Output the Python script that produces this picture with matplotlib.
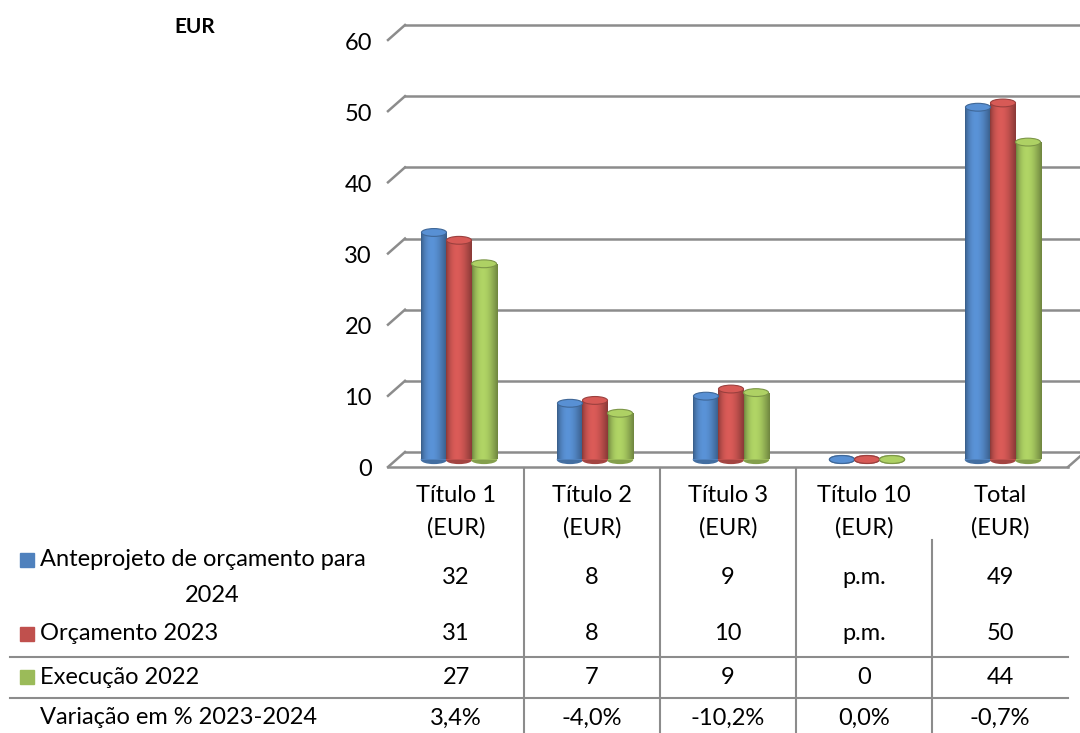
import numpy as np
import matplotlib.pyplot as plt
from matplotlib.patches import Ellipse, Rectangle
from matplotlib.transforms import ScaledTranslation, blended_transform_factory, IdentityTransform
from matplotlib.colors import to_rgb

plt.rcParams['font.family'] = ['Lato', 'DejaVu Sans']

# Data
categories = ["Título 1\n(EUR)", "Título 2\n(EUR)", "Título 3\n(EUR)", "Título 10\n(EUR)", "Total\n(EUR)"]
series_names = ["Anteprojeto de orçamento para\n2024", "Orçamento 2023", "Execução 2022"]
ante_2024 = [31.9, 7.9, 8.9, 0.0, 49.5]
orc_2023 = [30.8, 8.3, 9.9, 0.0, 50.1]
exec_2022 = [27.5, 6.5, 9.4, 0.0, 44.6]
ante_txt = ["32", "8", "9", "p.m.", "49"]
orc_txt = ["31", "8", "10", "p.m.", "50"]
exec_txt = ["27", "7", "9", "0", "44"]
var_txt = ["3,4%", "-4,0%", "-10,2%", "0,0%", "-0,7%"]
yticks = [0, 10, 20, 30, 40, 50, 60]

colors = ["#4F81BD", "#C0504D", "#9BBB59"]
grid_c = "#8C8C8C"
fs = 17

W, H = 1080, 733
fig = plt.figure(figsize=(W / 100, H / 100), dpi=100)
ax = fig.add_axes([388 / W, (H - 467) / H, 680 / W, 427 / H])
ax.axis('off')
ax.set_xlim(0, 5)
ax.set_ylim(0, 60)


def off(dx, dy):
    return ax.transData + ScaledTranslation(dx / 100, dy / 100, fig.dpi_scale_trans)


back = off(17, 15)
mid = off(3, 7.5)
lab = off(-16, -3)
ident = IdentityTransform()


def depth_line(xv, v):
    p0 = ax.transData.transform((xv, v))
    p1 = back.transform((xv, v))
    fig.add_artist(plt.Line2D([p0[0], p1[0]], [p0[1], p1[1]], color=grid_c, lw=1.8,
                              transform=ident))


# gridlines (3D look)
for v in yticks:
    ax.plot([0, 5.05], [v, v], color=grid_c, lw=1.8, transform=back, clip_on=False)
    depth_line(0, v)
    ax.text(0, v, str(v), transform=lab, ha='right', va='center', fontsize=fs)
# floor front and right edge
ax.plot([0, 5], [0, 0], color=grid_c, lw=1.8, clip_on=False)
depth_line(5, 0)

# cylinders
bw = 0.184
eh = 1.1
x = np.arange(5) + 0.5
t = np.linspace(0, 1, 40)
shade = 0.72 + 0.42 * np.sin(np.pi * t ** 0.8)
for i, vals in enumerate([ante_2024, orc_2023, exec_2022]):
    xs = x + (i - 1) * bw
    base = np.array(to_rgb(colors[i]))
    grad = np.clip(base[None, :] * shade[:, None], 0, 1)[None, :, :]
    bars = ax.bar(xs, vals, width=bw, color=colors[i], transform=mid, zorder=3, clip_on=False)
    for xi, v, b in zip(xs, vals, bars):
        ax.add_patch(Ellipse((xi, 0), bw, eh, color=base * 0.85, transform=mid, zorder=2, clip_on=False))
        if v > 0:
            im = ax.imshow(grad, extent=[xi - bw / 2, xi + bw / 2, 0, v], aspect='auto',
                           transform=mid, zorder=3.5, interpolation='bilinear')
            im.set_clip_path(b)
        top = np.clip(base * 1.12, 0, 1)
        ax.add_patch(Ellipse((xi, v), bw, eh, facecolor=top, edgecolor=base * 0.8, lw=0.8,
                             transform=mid, zorder=4, clip_on=False))

ax.set_xlim(0, 5)
ax.set_ylim(0, 60)

# table
tr = blended_transform_factory(ax.transData, fig.transFigure)


def fy(ypx):
    return 1 - ypx / H


for j, c in enumerate(categories):
    l1, l2 = c.split("\n")
    ax.text(x[j], fy(495), l1, transform=tr, ha='center', va='center', fontsize=fs)
    ax.text(x[j], fy(528), l2, transform=tr, ha='center', va='center', fontsize=fs)
    ax.text(x[j], fy(578), ante_txt[j], transform=tr, ha='center', va='center', fontsize=fs)
    ax.text(x[j], fy(634), orc_txt[j], transform=tr, ha='center', va='center', fontsize=fs)
    ax.text(x[j], fy(677), exec_txt[j], transform=tr, ha='center', va='center', fontsize=fs)
    ax.text(x[j], fy(718), var_txt[j], transform=tr, ha='center', va='center', fontsize=fs)

for k in [1, 2, 3]:
    ax.plot([k, k], [fy(468), 0], transform=tr, color=grid_c, lw=1.5, clip_on=False)
ax.plot([4, 4], [fy(540), 0], transform=tr, color=grid_c, lw=1.5, clip_on=False)
for ypx in [657, 698]:
    fig.add_artist(plt.Line2D([10 / W, 1068 / W], [fy(ypx), fy(ypx)], color=grid_c, lw=1.5))

l1, l2 = series_names[0].split("\n")
fig.text(40 / W, fy(560), l1, ha='left', va='center', fontsize=fs)
fig.text(212 / W, fy(595), l2, ha='center', va='center', fontsize=fs)
fig.text(40 / W, fy(634), series_names[1], ha='left', va='center', fontsize=fs)
fig.text(40 / W, fy(677), series_names[2], ha='left', va='center', fontsize=fs)
fig.text(40 / W, fy(718), "Variação em % 2023-2024", ha='left', va='center', fontsize=fs)
for c, ypx in zip(colors, [560, 634, 677]):
    fig.add_artist(Rectangle((20 / W, fy(ypx + 7)), 14 / W, 14 / H, color=c, transform=fig.transFigure))

fig.text(195 / W, fy(27), "EUR", ha='center', va='center', fontsize=15, fontweight='bold')

fig.savefig("out.png", dpi=100)
